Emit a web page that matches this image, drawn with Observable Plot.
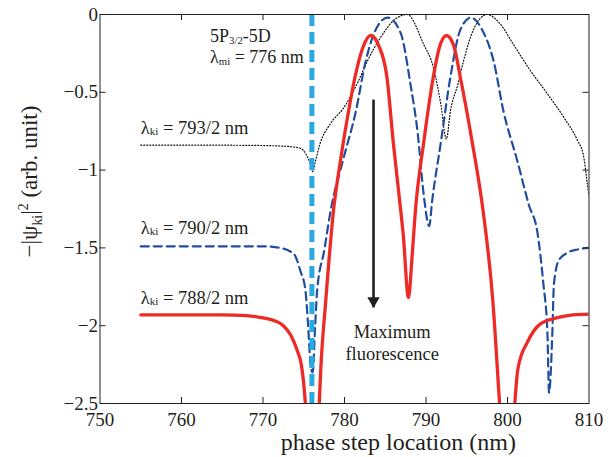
<!DOCTYPE html>
<html><head><meta charset="utf-8">
<script src="https://cdn.jsdelivr.net/npm/d3@7"></script>
<script src="https://cdn.jsdelivr.net/npm/@observablehq/plot@0.6"></script>
<style>
html,body{margin:0;padding:0;background:#fff;}
#chart{width:614px;height:457px;overflow:hidden;}
</style></head><body><div id="chart"></div>
<script>
// ---- data ----
const xTicks = [750, 760, 770, 780, 790, 800, 810];
const yTicks = [0, -0.5, -1, -1.5, -2, -2.5];

// λki = 793/2 nm (dotted black)
const dottedX = [755, 765, 770, 772, 773.5, 774.6, 775.3, 775.8, 776.1, 776.4, 777.0, 778.3, 779.9, 781.6, 782.8, 784.4, 786.0, 787.7, 789.7, 790.9, 791.8, 792.5, 793.0, 793.9, 794.6, 795.8, 797.5, 799.1, 800.7, 802.8, 804.9, 806.9, 808.6, 809.3, 809.8, 810];
const dottedY = [-0.84, -0.84, -0.842, -0.845, -0.85, -0.86, -0.9, -0.96, -1.01, -0.95, -0.83, -0.70, -0.60, -0.44, -0.30, -0.15, -0.04, 0, -0.19, -0.34, -0.57, -0.80, -0.62, -0.45, -0.30, -0.10, 0, -0.06, -0.19, -0.36, -0.51, -0.66, -0.81, -0.90, -1.09, -1.17];

// λki = 790/2 nm (dashed blue)
const dashedX = [755, 765, 770, 772.1, 773.8, 774.6, 775.2, 775.5, 775.9, 776.1, 776.4, 776.65, 777.5, 778.3, 779.8, 781.4, 782.6, 784.0, 785.3, 786.9, 788.1, 789.0, 789.7, 790.4, 790.75, 791.8, 793.0, 794.2, 795.5, 796.9, 798.3, 799.5, 801.2, 802.6, 803.7, 804.4, 804.9, 805.1, 805.5, 805.7, 806.3, 807.4, 808.6, 810];
const dashedY = [-1.49, -1.49, -1.49, -1.50, -1.54, -1.65, -1.77, -1.97, -2.28, -2.30, -2.0, -1.77, -1.52, -1.26, -0.94, -0.62, -0.30, -0.08, -0.02, -0.12, -0.45, -0.77, -1.15, -1.36, -1.20, -0.83, -0.40, -0.10, -0.02, -0.10, -0.30, -0.62, -0.94, -1.22, -1.41, -1.73, -2.05, -2.43, -2.05, -1.73, -1.58, -1.53, -1.51, -1.50];

// λki = 788/2 nm (solid red)
const solidX = [755, 760, 765, 768, 770, 771.5, 772.5, 773.4, 774.2, 774.7, 775.2, 775.6, 776.0, 776.5, 776.9, 777.1, 777.7, 778.65, 779.5, 780.5, 781.3, 782.2, 783.2, 784.2, 785.2, 786.0, 786.9, 787.2, 787.85, 788.3, 788.7, 789.7, 790.9, 791.6, 792.5, 793.4, 794.2, 795.7, 797.0, 798.2, 799.0, 799.5, 800.0, 800.5, 800.9, 801.3, 802.5, 804.0, 806.0, 808.0, 810];
const solidY = [-1.93, -1.93, -1.93, -1.935, -1.95, -1.97, -2.0, -2.06, -2.16, -2.25, -2.5, -2.9, -3.4, -2.9, -2.5, -2.27, -1.84, -1.26, -0.94, -0.62, -0.40, -0.22, -0.135, -0.20, -0.40, -0.83, -1.26, -1.41, -1.82, -1.55, -1.26, -0.83, -0.40, -0.22, -0.135, -0.20, -0.40, -0.83, -1.26, -1.84, -2.48, -2.9, -3.4, -2.9, -2.5, -2.27, -2.10, -1.99, -1.95, -1.93, -1.925];

const stepLine = [776];           // 5P3/2-5D, λmi = 776 nm
const arrowX = [783.56];
const arrowFrom = [-0.55];
const arrowTo = [-1.885];

const curveLabels = ["λ_{ki} = 793/2 nm", "λ_{ki} = 790/2 nm", "λ_{ki} = 788/2 nm"];
const curveLabelX = [755, 755, 755];
const curveLabelY = [-0.727, -1.370, -1.821];
const stepLabels = ["5P_{3/2}-5D", "λ_{mi} = 776 nm"];
const stepLabelX = [763.5, 763.5];
const stepLabelY = [-0.142, -0.277];
const noteLabels = ["Maximum", "fluorescence"];
const noteX = [785.85, 785.85];
const noteY = [-2.039, -2.181];

const xLabel = "phase step location (nm)";
const yLabel = "−|ψ_{ki}|^{2} (arb. unit)";

// ---- build ----
const rows = (xs, ys) => xs.map((x, i) => ({x, y: ys[i]}));
const dotted = rows(dottedX, dottedY);
const dashed = rows(dashedX, dashedY);
const solid = rows(solidX, solidY);

const W = 614, H = 457;
const mT = 14, mR = 25.5, mB = 54, mL = 99.5;
const pw = W - mL - mR, ph = H - mT - mB;
const serif = "Liberation Serif, Times New Roman, serif";
const fmt = d => d === 0 ? "0" : (d < 0 ? "−" : "") + String(Math.abs(d));

const chart = Plot.plot({
  width: W, height: H,
  marginTop: mT, marginRight: mR, marginBottom: mB, marginLeft: mL,
  style: {fontFamily: serif, fontSize: "19px", color: "#231f20", background: "#fff"},
  x: {domain: [750, 810], ticks: xTicks, tickSize: 0, tickPadding: 9, tickFormat: fmt, label: null},
  y: {domain: [-2.5, 0], ticks: yTicks, tickSize: 0, tickPadding: 2, tickFormat: fmt, label: null},
  marks: [
    Plot.line(dotted, {x: "x", y: "y", stroke: "#111", strokeWidth: 1.2, strokeDasharray: "1,2", curve: "monotone-x", clip: true}),
    Plot.line(dashed, {x: "x", y: "y", stroke: "#1f4e9f", strokeWidth: 2.2, strokeDasharray: "8,5", curve: "monotone-x", clip: true}),
    Plot.line(solid, {x: "x", y: "y", stroke: "#ee2a27", strokeWidth: 3.3, curve: "monotone-x", clip: true}),
    Plot.ruleX(stepLine, {stroke: "#29a9e0", strokeWidth: 5, strokeDasharray: "12,6"}),
    Plot.ruleX(arrowX, {x: d => d, y1: () => arrowFrom[0], y2: () => arrowTo[0], stroke: "#231f20", strokeWidth: 2.6}),
    Plot.dot(arrowX, {x: d => d, y: () => arrowTo[0], symbol: "triangle", r: 4.6, rotate: 180, dy: -7, fill: "#231f20", stroke: "none"}),
    Plot.frame({stroke: "#231f20", strokeWidth: 1}),
    Plot.ruleX(xTicks.slice(1, -1), {insetTop: ph - 6, stroke: "#231f20"}),
    Plot.ruleX(xTicks.slice(1, -1), {insetBottom: ph - 6, stroke: "#231f20"}),
    Plot.ruleY(yTicks.slice(1, -1), {insetRight: pw - 6, stroke: "#231f20"}),
    Plot.ruleY(yTicks.slice(1, -1), {insetLeft: pw - 6, stroke: "#231f20"}),
    Plot.text(curveLabels, {x: (d, i) => curveLabelX[i], y: (d, i) => curveLabelY[i], text: d => d, textAnchor: "start", lineAnchor: "middle", fontSize: 18.5, fill: "#231f20"}),
    Plot.text(stepLabels, {x: (d, i) => stepLabelX[i], y: (d, i) => stepLabelY[i], text: d => d, textAnchor: "start", lineAnchor: "middle", fontSize: 18, fill: "#231f20"}),
    Plot.text(noteLabels, {x: (d, i) => noteX[i], y: (d, i) => noteY[i], text: d => d, textAnchor: "middle", lineAnchor: "middle", fontSize: 18.5, fill: "#231f20"}),
    Plot.text([xLabel], {x: 786.6, frameAnchor: "bottom", dy: 38.5, text: d => d, textAnchor: "middle", lineAnchor: "middle", fontSize: 24, fill: "#231f20"}),
    Plot.text([yLabel], {y: -1.074, frameAnchor: "left", dx: -70, rotate: -90, text: d => d, textAnchor: "middle", lineAnchor: "middle", fontSize: 23, fill: "#231f20"})
  ]
});
document.getElementById("chart").appendChild(chart);

// rich text: _{...} subscript, ^{...} superscript
const NS = "http://www.w3.org/2000/svg";
chart.querySelectorAll("text").forEach(t => {
  const s = t.textContent;
  if (!/[_^]\{/.test(s)) return;
  const fs = parseFloat(getComputedStyle(t).fontSize) || 18;
  const deep = s.includes("ψ");
  const re = /([_^])\{([^}]*)\}/g;
  const parts = [];
  let last = 0, m;
  while ((m = re.exec(s))) {
    if (m.index > last) parts.push({t: s.slice(last, m.index), k: 0});
    parts.push({t: m[2], k: m[1] === "_" ? 1 : -1});
    last = re.lastIndex;
  }
  if (last < s.length) parts.push({t: s.slice(last), k: 0});
  t.textContent = "";
  let cur = 0;
  for (const p of parts) {
    const ts = document.createElementNS(NS, "tspan");
    const target = p.k === 1 ? (deep ? 0.2 : 0.07) * fs : p.k === -1 ? -0.4 * fs : 0;
    ts.setAttribute("dy", (target - cur).toFixed(2));
    cur = target;
    if (p.k) ts.setAttribute("font-size", (0.6 * fs).toFixed(2));
    ts.textContent = p.t;
    t.appendChild(ts);
  }
});
</script>
</body></html>
